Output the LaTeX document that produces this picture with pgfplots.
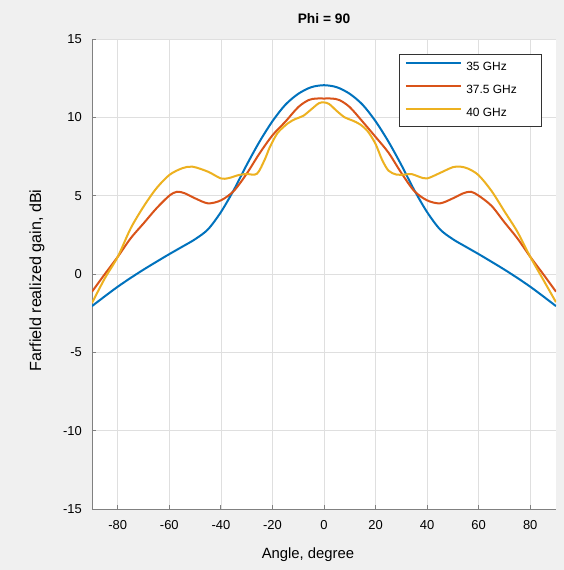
\documentclass[border=0pt]{standalone}
\usepackage{pgfplots}
\pgfplotsset{compat=1.18}
\usepackage{fontspec}
\setmainfont{Liberation Sans}
\definecolor{bgc}{HTML}{F0F0F0}
\definecolor{mblue}{HTML}{0072BD}
\definecolor{morange}{HTML}{D95319}
\definecolor{myellow}{HTML}{EDB120}
\definecolor{gridc}{HTML}{DFDFDF}
\definecolor{axc}{HTML}{808080}
\begin{document}
\begin{tikzpicture}
\path[fill=bgc, use as bounding box] (-92bp,-61bp) rectangle (472bp,509bp);
\begin{axis}[
  at={(0,0)}, anchor=south west,
  scale only axis, width=464bp, height=470bp,
  xmin=-90, xmax=90, ymin=-15, ymax=15,
  xtick={-80,-60,...,80}, ytick={-15,-10,...,15},
  axis x line*=bottom, axis y line*=left,
  axis line style={axc, line width=0.8bp, -},
  tick align=inside, major tick length=4bp,
  tick style={axc, line width=0.8bp},
  grid=major, major grid style={gridc, line width=0.6bp},
  axis background/.style={fill=white},
  /pgf/number format/assume math mode=true,
  xticklabel style={font=\fontsize{13}{15}\selectfont, anchor=center, yshift=-16.5bp, inner sep=0pt},
  yticklabel style={font=\fontsize{13}{15}\selectfont, anchor=east, xshift=-10bp, inner sep=0pt},
  xlabel={Angle, degree},
  ylabel={Farfield realized gain, dBi},
  xlabel style={at={(axis description cs:0.4655,-0.0979)}, anchor=center, font=\fontsize{14.9}{17}\selectfont, inner sep=0pt},
  ylabel style={at={(axis description cs:-0.1185,0.486)}, anchor=center, rotate=0, font=\fontsize{16.2}{18}\selectfont, inner sep=0pt},
  title={\textbf{Phi = 90}},
  title style={at={(axis description cs:0.5,1.031)}, anchor=center, font=\fontsize{13.8}{16}\selectfont, inner sep=0pt},
  legend style={at={(rel axis cs:0.970,0.968)}, anchor=north east,
    draw=black!80, fill=white, line width=0.6bp,
    font=\fontsize{12}{14}\selectfont,
    inner xsep=5bp, inner ysep=7.5bp, row sep=12bp, column sep=4.5bp,
    nodes={inner sep=0pt, text height=9bp, text depth=2bp}},
  legend cell align=left,
  legend image code/.code={\draw[#1] (0bp,4.3bp) -- (55bp,4.3bp);},
  every axis plot/.append style={line width=2bp, smooth, no markers},
]
\addplot[mblue] coordinates {
(-90,-2.05) (-85,-1.42) (-80,-0.81) (-75,-0.25) (-70,0.28) (-65,0.78) (-60,1.27) (-55,1.74) (-50,2.22) (-45,2.85) (-40,3.95) (-35,5.36) (-30,6.96) (-25,8.45) (-20,9.75) (-15,10.8) (-10,11.5) (-5,11.92) (0,12.05)
(5,11.92) (10,11.5) (15,10.8) (20,9.75) (25,8.45) (30,6.96) (35,5.36) (40,3.95) (45,2.85) (50,2.22) (55,1.74) (60,1.27) (65,0.78) (70,0.28) (75,-0.25) (80,-0.81) (85,-1.42) (90,-2.05)
};
\addlegendentry{\makebox[70.5bp][l]{35 GHz}}
\addplot[morange] coordinates {
(-90,-1.13) (-85,0.0) (-80,1.1) (-75,2.28) (-70,3.23) (-65,4.19) (-60,5.0) (-57,5.25) (-54,5.15) (-50,4.83) (-45,4.51) (-40,4.7) (-35,5.3) (-30,6.4) (-25,7.7) (-20,8.85) (-15,9.72) (-10,10.65) (-6,11.1) (-3,11.2) (0,11.2)
(3,11.2) (6,11.1) (10,10.65) (15,9.72) (20,8.75) (25,7.75) (30,6.45) (35,5.3) (40,4.7) (45,4.51) (50,4.83) (54,5.15) (57,5.25) (60,5.0) (65,4.35) (70,3.3) (75,2.28) (80,1.1) (85,0.0) (90,-1.13)
};
\addlegendentry{\makebox[70.5bp][l]{37.5 GHz}}
\addplot[myellow] coordinates {
(-90,-1.85) (-85,-0.27) (-80,1.1) (-75,2.91) (-70,4.3) (-65,5.47) (-60,6.32) (-55,6.75) (-51,6.85) (-45,6.53) (-40,6.1) (-37,6.12) (-33,6.32) (-30,6.38) (-26,6.4) (-23,7.3) (-21,8.1) (-18,9.0) (-14,9.62) (-11,9.9) (-8,10.1) (-5,10.5) (-2,10.9) (0,10.95)
(2,10.85) (5,10.4) (8,10.0) (11,9.8) (14,9.55) (17,9.1) (20,8.3) (22.5,7.3) (25,6.6) (28,6.35) (31,6.34) (34,6.38) (37,6.2) (40,6.1) (45,6.45) (50,6.82) (53,6.85) (56,6.72) (60,6.3) (65,5.3) (70,4.0) (75,2.7) (80,1.1) (85,-0.35) (90,-1.8)
};
\addlegendentry{\makebox[70.5bp][l]{40 GHz}}
\end{axis}
\end{tikzpicture}
\end{document}
